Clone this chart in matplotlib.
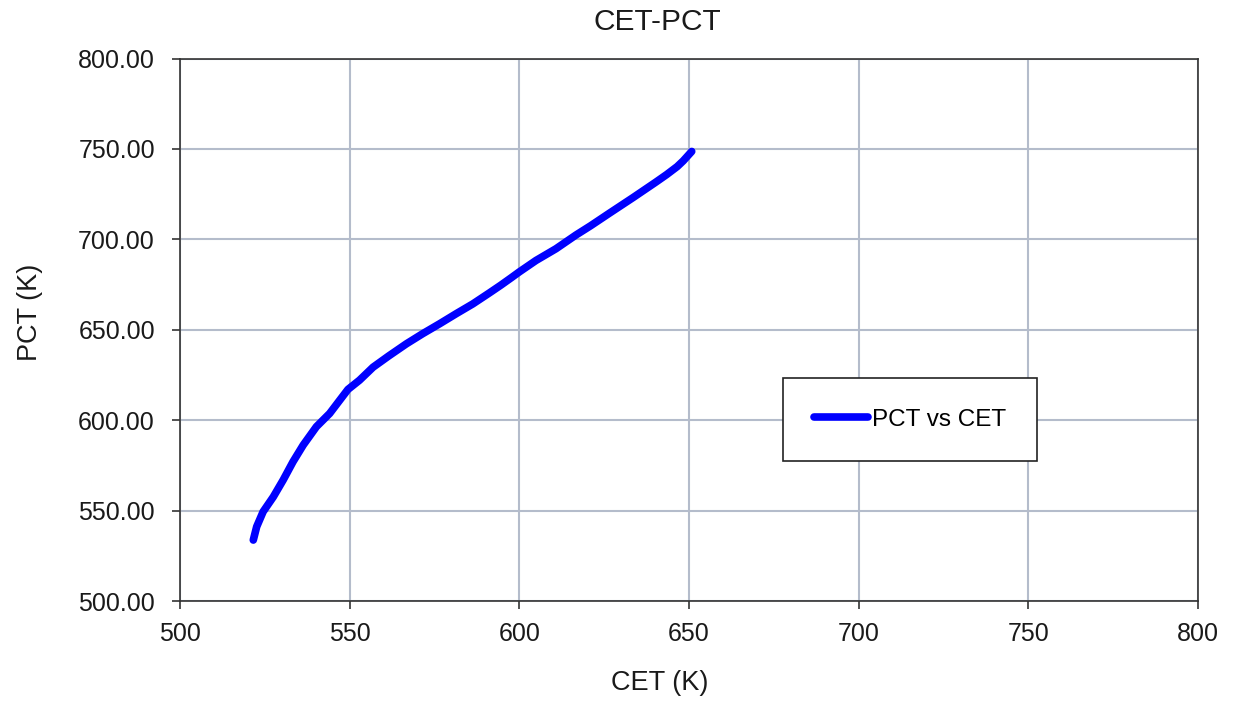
import numpy as np
import matplotlib
matplotlib.use("Agg")
import matplotlib.pyplot as plt

plt.rcParams['font.family'] = ['Liberation Sans', 'DejaVu Sans']

# CET (K) vs PCT (K)
cet = [521.6, 522.6, 524.5, 527.5, 530.4, 533.3, 536.3, 540.2, 544.1, 547.1,
       549.5, 552.9, 556.9, 561.5, 566.7, 571.5, 576.5, 581.5, 586.3, 591.2,
       594.5, 597.5, 600.0, 604.9, 610.8, 616.7, 621.0, 626.5, 633.6, 640.2,
       643.4, 646.5, 648.3, 650.8]
pct = [533.7, 541.1, 549.4, 557.6, 566.9, 577.0, 586.2, 596.4, 603.7, 611.1,
       617.0, 622.1, 629.3, 635.5, 642.2, 647.8, 653.3, 659.0, 664.3, 670.4,
       674.6, 678.6, 682.0, 688.3, 694.8, 702.4, 707.5, 714.4, 723.2, 731.6,
       735.8, 740.2, 743.4, 748.6]

x_ticks = [500, 550, 600, 650, 700, 750, 800]
y_ticks = [500, 550, 600, 650, 700, 750, 800]

fig = plt.figure(figsize=(12.33, 7.01), dpi=100)
ax = fig.add_axes([180 / 1233, 1 - 601 / 701, 1018 / 1233, 542.5 / 701])

ax.plot(cet, pct, color='#0000ff', linewidth=5.5, solid_capstyle='round',
        solid_joinstyle='round', label='PCT vs CET')

ax.set_xlim(500, 800)
ax.set_ylim(500, 800)
ax.set_xticks(x_ticks)
ax.set_yticks(y_ticks)
ax.set_yticklabels([f'{v:.2f}' for v in y_ticks])
ax.grid(True, color='#b4bccb', linewidth=1.5)
ax.set_axisbelow(True)
for s in ax.spines.values():
    s.set_color('#333333')
    s.set_linewidth(1.2)
ax.tick_params(direction='out', length=6, width=1.2, color='#333333',
               labelsize=18, labelcolor='#1a1a1a')
ax.tick_params(axis='y', pad=12)
ax.tick_params(axis='x', pad=9)

fig.text(657 / 1233, 1 - 22 / 701, 'CET-PCT', ha='center', va='center',
         fontsize=21.5, color='#1a1a1a')
fig.text(660 / 1233, 1 - 683 / 701, 'CET (K)', ha='center', va='center',
         fontsize=19.5, color='#1a1a1a')
fig.text(30 / 1233, 1 - 312 / 701, 'PCT (K)', ha='center', va='center',
         rotation=90, fontsize=19.5, color='#1a1a1a')

leg = ax.legend(loc='center', bbox_to_anchor=(0.717, 0.334), fontsize=17.5,
                fancybox=False, framealpha=1, edgecolor='#222222',
                borderpad=1.25, handlelength=2.25, handletextpad=0.15)
leg.get_frame().set_linewidth(1.2)

fig.savefig('out.png', dpi=100)
